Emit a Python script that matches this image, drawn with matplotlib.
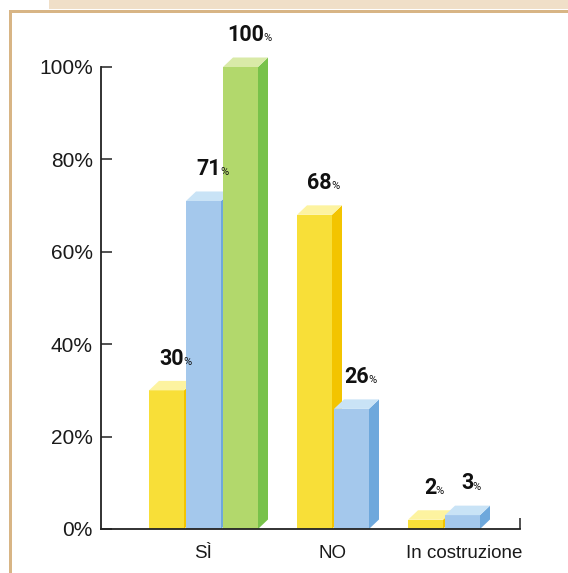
import matplotlib
matplotlib.use('Agg')
import matplotlib.pyplot as plt
from matplotlib.patches import Rectangle, Polygon

# Survey answers, percentage per category
categories = ['SÌ', 'NO', 'In costruzione']
yellow_vals = [30, 68, 2]
blue_vals = [71, 26, 3]
green_vals = [100, None, None]
y_ticks = [0, 20, 40, 60, 80, 100]
y_tick_labels = ['0%', '20%', '40%', '60%', '80%', '100%']

palette = {
    'yellow': ('#f8df38', '#f3c400', '#fdf3a0'),
    'blue': ('#a4c8ec', '#6ea8dc', '#c9e3f6'),
    'green': ('#b2d86c', '#78c24a', '#d9eaa8'),
}

plt.rcParams['font.family'] = ['Liberation Sans', 'DejaVu Sans']
num_font = ['Roboto', 'Liberation Sans', 'DejaVu Sans']

fig = plt.figure(figsize=(5.68, 5.73), dpi=100)
W, H = 568.0, 573.0

# page frame: beige band, tan rule on top and on the left
fig.add_artist(Rectangle((49 / W, 1 - 9 / H), 1, 9 / H, transform=fig.transFigure,
                         facecolor='#f0dfc8', edgecolor='none'))
fig.add_artist(Rectangle((9 / W, 1 - 13 / H), 1, 3 / H, transform=fig.transFigure,
                         facecolor='#d8b585', edgecolor='none'))
fig.add_artist(Rectangle((9 / W, 0), 3 / W, 1 - 10 / H, transform=fig.transFigure,
                         facecolor='#d8b585', edgecolor='none'))

ax = fig.add_axes([101 / W, 44 / H, 419 / W, 462 / H])
ax.set_xlim(0, 419)
ax.set_ylim(0, 100)
ax.patch.set_alpha(0)

bar_w = 35
step = 37
dx = 10            # depth, x units
dy = 9.5 / 4.62    # depth, y units (percent)
group_start = [48, 196, 307]
label_x = [102.5, 232, 362.7]


def draw_bar(x, v, colors, z):
    front, side, top = colors
    ax.add_patch(Rectangle((x, 0), bar_w, v, facecolor=front, edgecolor='none',
                           zorder=z, clip_on=False))
    ax.add_patch(Polygon([(x + bar_w, 0), (x + bar_w + dx, dy), (x + bar_w + dx, v + dy),
                          (x + bar_w, v)], closed=True, facecolor=side, edgecolor='none',
                         zorder=z, clip_on=False))
    ax.add_patch(Polygon([(x, v), (x + dx, v + dy), (x + bar_w + dx, v + dy),
                          (x + bar_w, v)], closed=True, facecolor=top, edgecolor='none',
                         zorder=z, clip_on=False))
    # value label: bold number with a small percent sign right after it
    num = ax.text(x + bar_w / 2 + 5, v + 5.6, str(v), ha='center', va='baseline',
                  fontsize=15.5, fontweight='bold', family=num_font, color='#111111',
                  clip_on=False, zorder=10)
    ax.annotate('%', xy=(1, 0), xycoords=num, xytext=(-0.6, 1.9), textcoords='offset points',
                ha='left', va='bottom', fontsize=8, family=num_font, color='#111111',
                annotation_clip=False, zorder=10)


z = 2
for i, start in enumerate(group_start):
    k = 0
    for vals, name in ((yellow_vals, 'yellow'), (blue_vals, 'blue'), (green_vals, 'green')):
        v = vals[i]
        if v is None:
            continue
        draw_bar(start + k * step, v, palette[name], z)
        k += 1
        z += 1

for s in ['top', 'right']:
    ax.spines[s].set_visible(False)
for s in ['left', 'bottom']:
    ax.spines[s].set_color('#222222')
    ax.spines[s].set_linewidth(1.3)
    ax.spines[s].set_zorder(20)

ax.set_yticks(y_ticks)
ax.set_yticklabels(y_tick_labels, fontsize=15, color='#1a1a1a')
ax.tick_params(axis='y', direction='in', length=8, width=1.1, color='#222222', pad=6)

ax.set_xticks(label_x)
ax.set_xticklabels(categories, fontsize=13.5, color='#1a1a1a')
ax.tick_params(axis='x', which='major', length=0, pad=11.5)
ax.set_xticks([419], minor=True)
ax.tick_params(axis='x', which='minor', direction='in', length=8, width=1.1, color='#222222')

fig.savefig('out.png', dpi=100)
